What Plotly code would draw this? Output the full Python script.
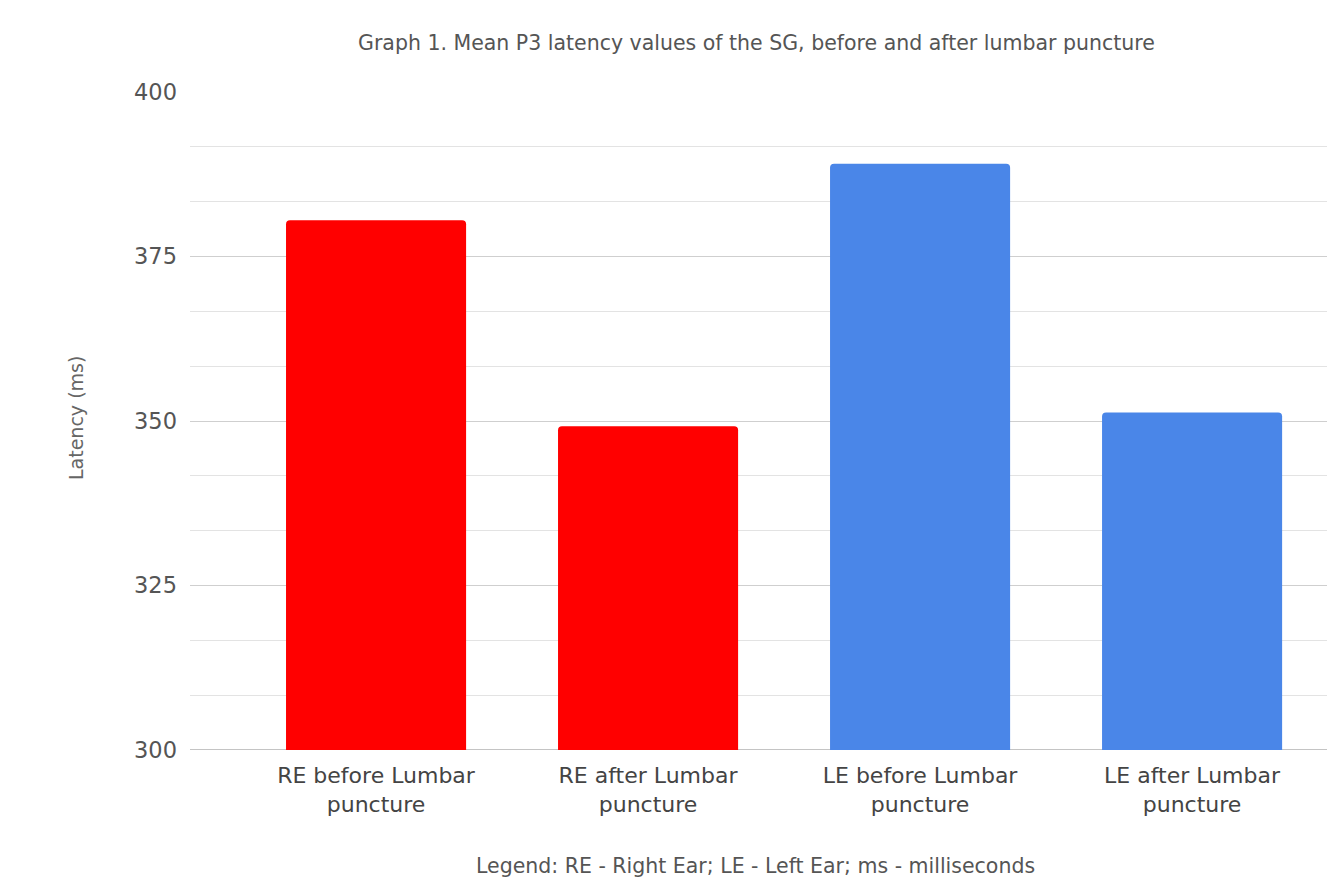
import plotly.graph_objects as go

# Mean P3 latency (ms) per ear, before and after lumbar puncture
categories = [
    "RE before Lumbar<br>puncture",
    "RE after Lumbar<br>puncture",
    "LE before Lumbar<br>puncture",
    "LE after Lumbar<br>puncture",
]
latency_ms = [380.5, 349.2, 389.1, 351.3]
bar_colors = ["#ff0000", "#ff0000", "#4a86e8", "#4a86e8"]
y_ticks = [300, 325, 350, 375, 400]

positions = list(range(len(categories)))

fig = go.Figure(
    go.Bar(
        x=positions,
        y=latency_ms,
        marker=dict(color=bar_colors, line=dict(width=0), cornerradius=4),
        width=0.662,
        hoverinfo="x+y",
    )
)

font_family = "DejaVu Sans"

# Plot area spans pixels x 190..1327, y 92..750
PLOT_L, PLOT_R, PLOT_T, PLOT_B = 190, 1327, 92, 750


def px_to_paper_x(px):
    return (px - PLOT_L) / (PLOT_R - PLOT_L)


def px_to_paper_y(py):
    return (PLOT_B - py) / (PLOT_B - PLOT_T)


fig.update_layout(
    width=1327,
    height=881,
    margin=dict(l=PLOT_L, r=1327 - PLOT_R, t=PLOT_T, b=881 - PLOT_B),
    paper_bgcolor="white",
    plot_bgcolor="white",
    showlegend=False,
    font=dict(family=font_family, color="#555555"),
    xaxis=dict(
        range=[-0.684, 3.496],
        tickmode="array",
        tickvals=positions,
        ticktext=categories,
        tickfont=dict(size=22, color="#444444"),
        showgrid=False,
        zeroline=False,
        showline=False,
        ticks="",
        ticklabelstandoff=10,
    ),
    yaxis=dict(
        range=[300, 400],
        tickmode="array",
        tickvals=y_ticks,
        tickfont=dict(size=22.5, color="#555555"),
        showgrid=True,
        gridcolor="#cfcfcf",
        gridwidth=1,
        zeroline=False,
        showline=False,
        ticks="",
        ticklabelstandoff=12,
        minor=dict(dtick=25 / 3, tick0=300, showgrid=True, gridcolor="#e3e3e3", gridwidth=1),
    ),
    bargap=0.34,
)

# Baseline at the bottom of the value axis
fig.add_shape(
    type="line", xref="paper", yref="y", x0=0, x1=1, y0=300, y1=300,
    line=dict(color="#b0b0b0", width=1.5), layer="below",
)

fig.add_annotation(
    text="Graph 1. Mean P3 latency values of the SG, before and after lumbar puncture",
    xref="paper", yref="paper", x=px_to_paper_x(756), y=px_to_paper_y(43),
    xanchor="center", yanchor="middle", showarrow=False,
    font=dict(size=20.5, color="#555555"),
)
fig.add_annotation(
    text="Latency (ms)",
    xref="paper", yref="paper", x=px_to_paper_x(76), y=px_to_paper_y(418),
    xanchor="center", yanchor="middle", textangle=-90, showarrow=False,
    font=dict(size=19, color="#666666"),
)
fig.add_annotation(
    text="Legend: RE - Right Ear; LE - Left Ear; ms - milliseconds",
    xref="paper", yref="paper", x=px_to_paper_x(755), y=px_to_paper_y(866),
    xanchor="center", yanchor="middle", showarrow=False,
    font=dict(size=20.5, color="#555555"),
)

fig.write_html("out.html")
